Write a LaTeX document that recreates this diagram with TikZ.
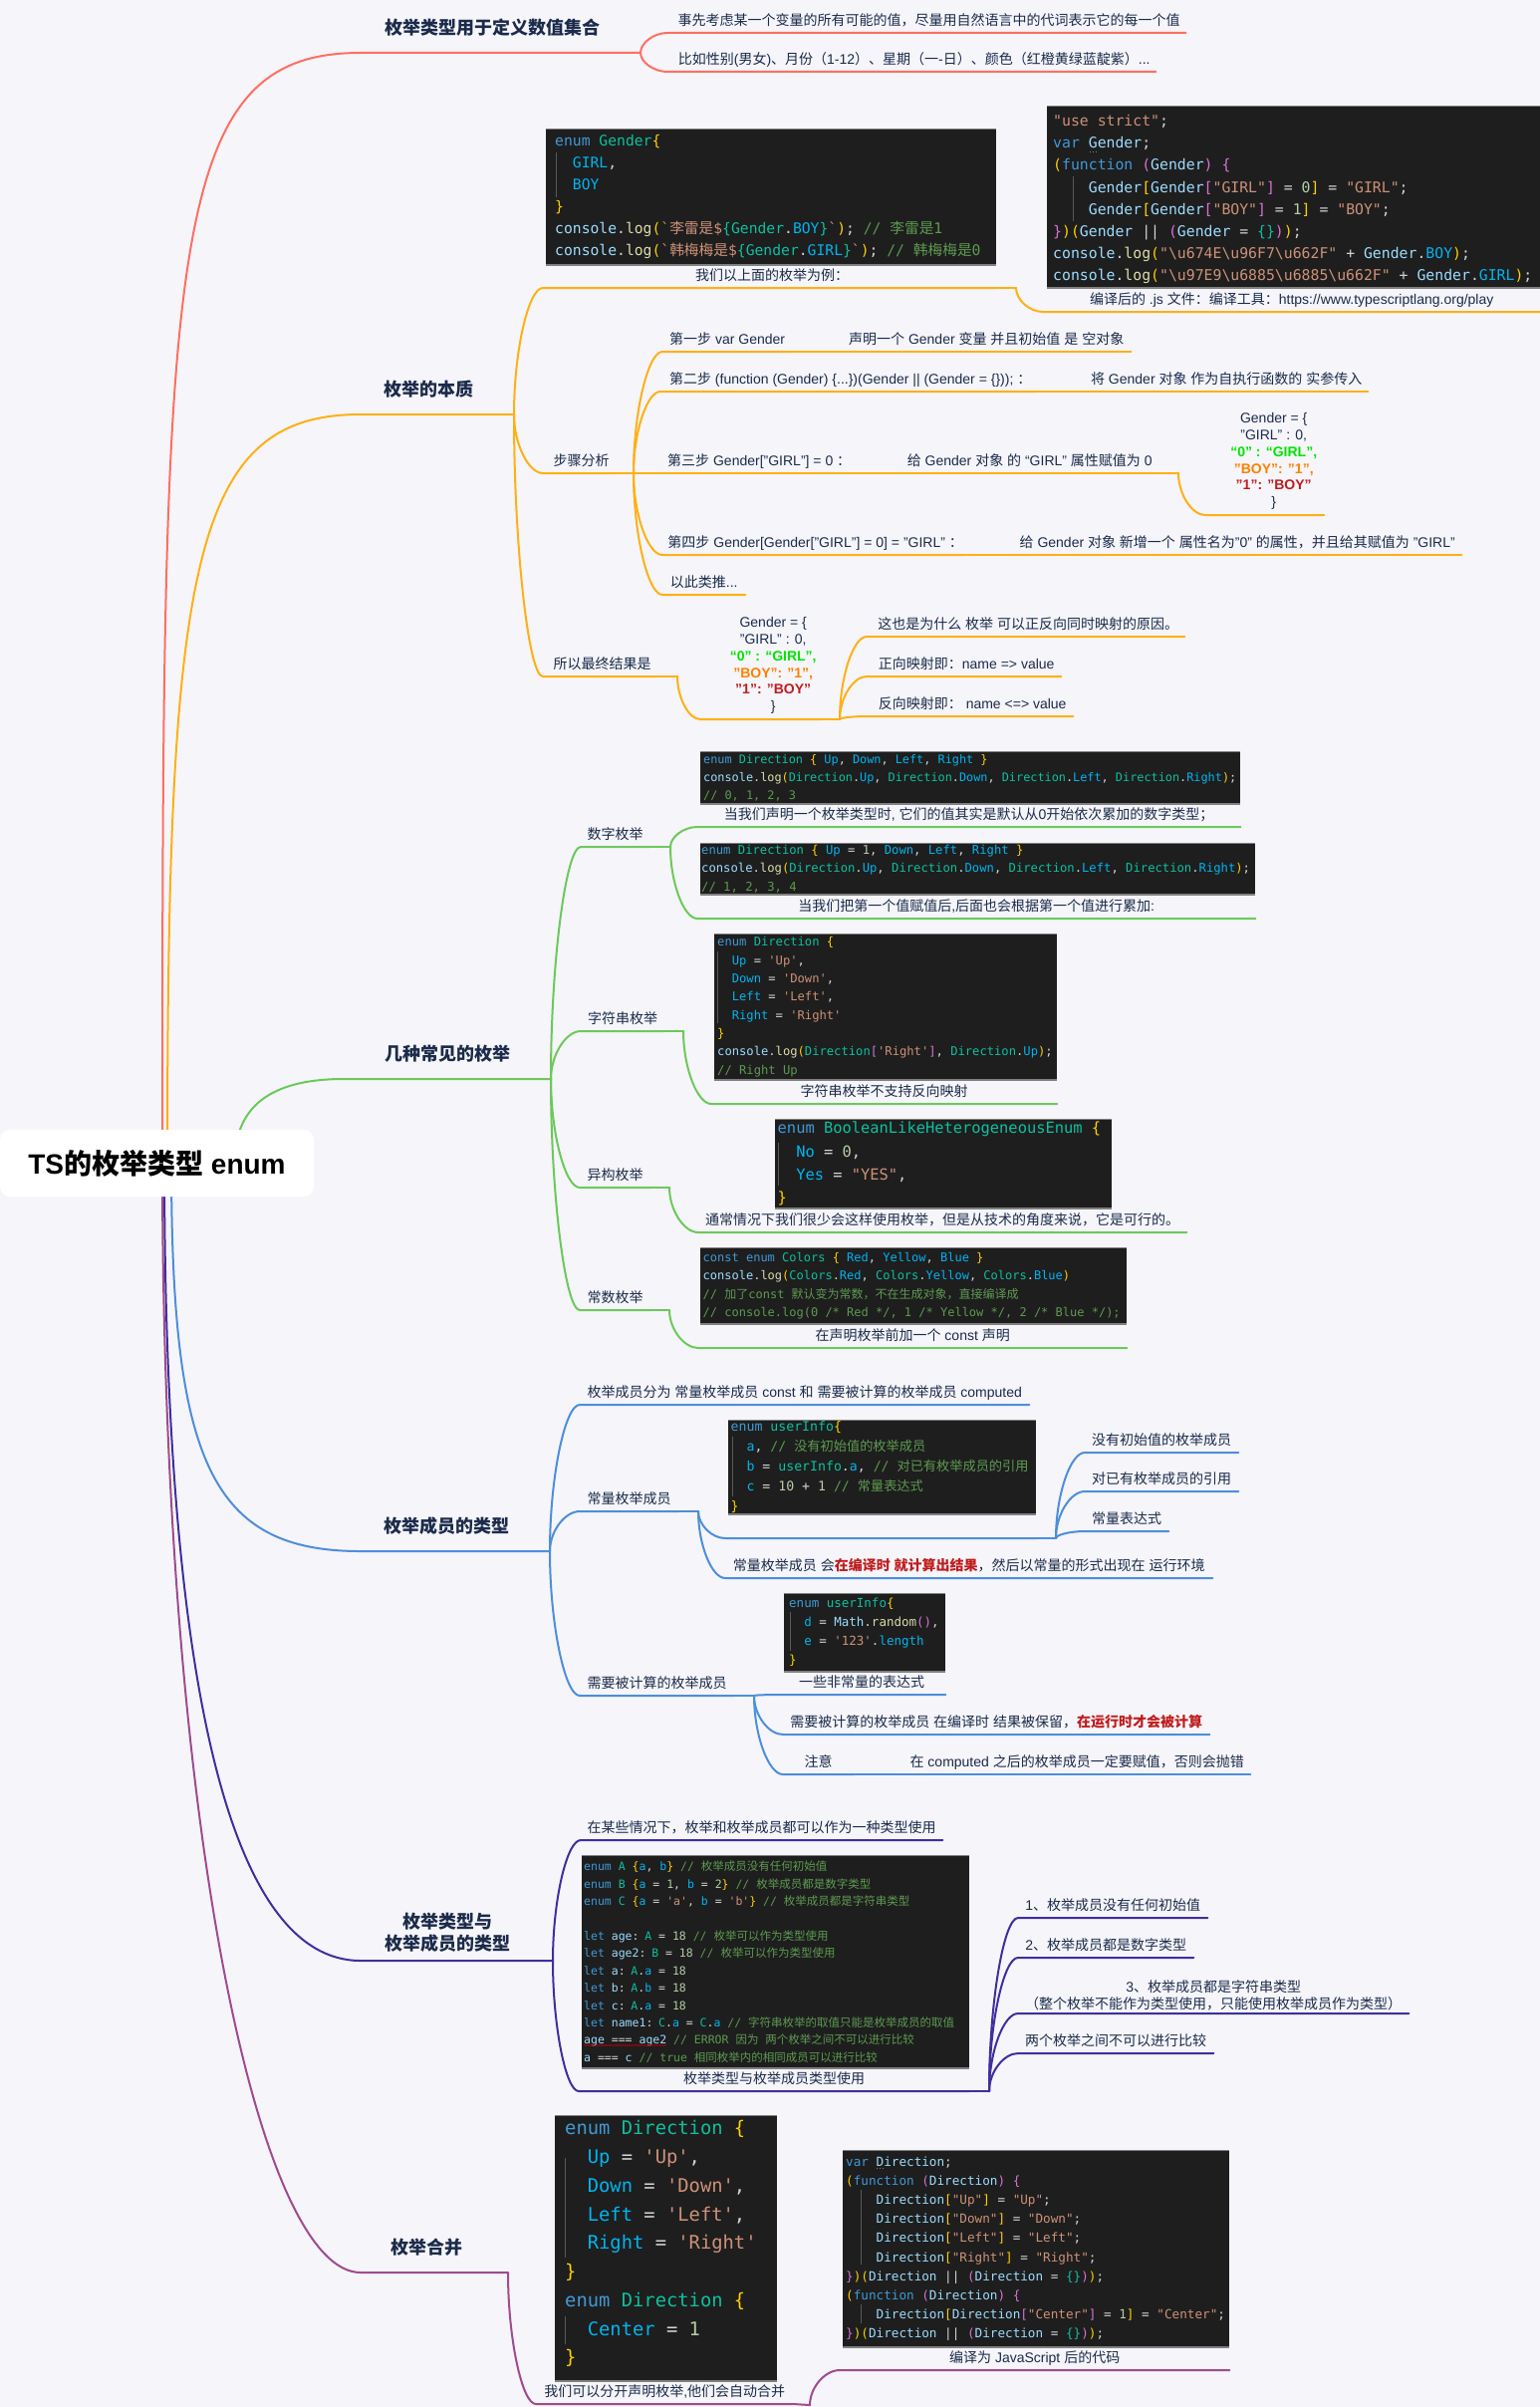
\documentclass[tikz,border=0pt]{standalone}
\usepackage{fontspec}
\setmainfont{Liberation Sans}
\setmonofont{DejaVu Sans Mono}
\newfontfamily\cjk{Noto Sans CJK SC}
\usetikzlibrary{calc}
\usetikzlibrary{decorations.pathmorphing}
% switch to the CJK font whenever a Han character shows up
\chardef\cjkclass=7
\newcount\cjkchar
\def\cjkrange#1#2{\cjkchar=#1 \loop\XeTeXcharclass\cjkchar=\cjkclass \advance\cjkchar by 1 \ifnum\cjkchar<#2 \repeat}
\cjkrange{"3000}{"3040}
\cjkrange{"4E00}{"A000}
\cjkrange{"FF00}{"FFF0}
\def\cjkpair#1{\XeTeXinterchartoks #1 \cjkclass={\begingroup\cjk}\XeTeXinterchartoks \cjkclass #1={\endgroup}}
\cjkpair{0}\cjkpair{1}\cjkpair{2}\cjkpair{3}\cjkpair{4095}
\XeTeXinterchartokenstate=1

\definecolor{pagebg}{HTML}{F5F5FA}
\definecolor{inkblue}{HTML}{1C2B4A}
\definecolor{mapred}{HTML}{FF6F61}
\definecolor{maporange}{HTML}{FFB014}
\definecolor{mapgreen}{HTML}{6CC95A}
\definecolor{mapblue}{HTML}{4E8EDB}
\definecolor{mapindigo}{HTML}{3F2F9E}
\definecolor{mappurple}{HTML}{A04B8E}
\definecolor{hotred}{HTML}{C01C1C}
\definecolor{codebg}{HTML}{1E1E1E}
\definecolor{codefg}{HTML}{D4D4D4}
\definecolor{codeK}{HTML}{3F9AD6}
\definecolor{codeT}{HTML}{0CC0A0}
\definecolor{codeV}{HTML}{00B4F0}
\definecolor{codeS}{HTML}{CE9178}
\definecolor{codeC}{HTML}{5D9A50}
\definecolor{codeN}{HTML}{B5CEA8}
\definecolor{codeB}{HTML}{FFD000}
\definecolor{codeP}{HTML}{DA70D6}
\definecolor{codeF}{HTML}{DCDCAA}
\definecolor{codeW}{HTML}{9CDCFE}
\newcommand{\cK}[1]{\textcolor{codeK}{#1}}
\newcommand{\cT}[1]{\textcolor{codeT}{#1}}
\newcommand{\cV}[1]{\textcolor{codeV}{#1}}
\newcommand{\cS}[1]{\textcolor{codeS}{#1}}
\newcommand{\cC}[1]{\textcolor{codeC}{#1}}
\newcommand{\cN}[1]{\textcolor{codeN}{#1}}
\newcommand{\cB}[1]{\textcolor{codeB}{#1}}
\newcommand{\cP}[1]{\textcolor{codeP}{#1}}
\newcommand{\cF}[1]{\textcolor{codeF}{#1}}
\newcommand{\cW}[1]{\textcolor{codeW}{#1}}
\newcommand{\clog}{\cW{console}.\cF{log}}
\newcommand{\ind}[1]{\hspace*{#1\dimexpr.602em\relax}}
\newcommand{\hl}[1]{\textcolor{hotred}{\bfseries #1}}
\newcommand{\pad}{\hspace*{32pt}}
\newcommand{\nudge}{\hspace*{5pt}}
\newcommand{\genderobj}{\begin{tabular}{@{}c@{}}
    Gender = \{\\
    "GIRL" : 0,\\
    \textcolor{green!90!black}{\bfseries “0” : “GIRL”,}\\
    \textcolor{orange}{\bfseries "BOY": "1",}\\
    \hl{"1": "BOY"}\\
    \}
\end{tabular}}
\newcommand{\branch}[3]{\draw[tone=#1] (#2) .. controls ($(#2)!0.5!(#3.south west-|#2)$) and ($(#3.south west)!0.5!(#3.south west-|#2)$) .. (#3.south west) -- (#3.south east);}
\pgfdeclarelayer{links}
\pgfsetlayers{links,main}

\begin{document}
\begin{tikzpicture}[
x=1pt, y=-1pt,
font=\fontsize{14}{16.8}\selectfont, text=inkblue,
rootbox/.style = {fill=white, rounded corners=10pt, minimum width=315pt, minimum height=67pt,
            inner sep=0pt, text=black, font=\fontsize{28}{34}\selectfont\bfseries},
topic/.style = {anchor=south west, inner sep=0pt, text depth=18.5pt,
            font=\fontsize{18}{22}\selectfont\bfseries},
topicm/.style = {anchor=south west, inner sep=0pt, inner ysep=8pt,
            font=\fontsize{18}{22}\selectfont\bfseries},
leaf/.style = {anchor=south west, inner sep=0pt, text depth=7.5pt, text height=12pt},
leafm/.style = {anchor=south west, inner sep=0pt, inner ysep=3pt},
tone/.style = {draw=#1, line width=2pt, line cap=round, line join=round},
codebox/.style n args = {5}{anchor=north west, fill=codebg, text=codefg, align=left,
            text width=#1pt, minimum height=#2pt, inner xsep=#5pt, inner ysep=0pt,
            font=\ttfamily\fontsize{#3}{#4}\selectfont,
            execute at begin node={\spaceskip=.602em\relax},
            path picture={\draw[gray,line width=2pt] (path picture bounding box.north west) -- (path picture bounding box.north east)
            (path picture bounding box.south west) -- (path picture bounding box.south east);}},
guide/.style = {draw=gray!70!black, line width=0.6pt}
                ]
    \useasboundingbox (0,0) rectangle (1546,2416);

    % root and topics
    \node[rootbox] (root) at (157.5,1167.5) {TS的枚举类型 enum};
    \node[topic,minimum width=264pt] (tred) at (362,53) {枚举类型用于定义数值集合};
    \node[topic,minimum width=136pt] (torange) at (362,416) {枚举的本质};
    \node[topic,minimum width=208pt] (tgreen) at (345,1083) {几种常见的枚举};
    \node[topic,minimum width=172pt] (tblue) at (362,1557) {枚举成员的类型};
    \node[topicm,minimum width=174pt,align=center] (tindigo) at (362,1968) {枚举类型与\\枚举成员的类型};
    \node[topic,minimum width=132pt] (tpurple) at (362,2281) {枚举合并};

    % red branch
    \node[leaf,minimum width=520pt] (r1) at (670,33) {\nudge 事先考虑某一个变量的所有可能的值，尽量用自然语言中的代词表示它的每一个值};
    \node[leaf,minimum width=490pt] (r2) at (670,72) {\nudge 比如性别(男女)、月份（1-12）、星期（一-日）、颜色（红橙黄绿蓝靛紫）...};

    % orange branch
    \node[leaf,minimum width=455pt] (o1) at (545,289) {\nudge 我们以上面的枚举为例：};
    \node[leaf,minimum width=499pt] (o1b) at (1047,313) {编译后的 .js 文件：编译工具：https://www.typescriptlang.org/play};
    \node[leaf,minimum width=72pt] (o2) at (545,475) {\nudge 步骤分析};
    \node[leaf,minimum width=130pt] (s1) at (665,353) {第一步 var Gender};
    \node[leaf,minimum width=322pt] (s1b) at (813,353) {\pad 声明一个 Gender 变量 并且初始值 是 空对象};
    \node[leaf,minimum width=376pt] (s2) at (663,393) {\nudge 第二步 (function (Gender) \{...\})(Gender || (Gender = \{\})); ：};
    \node[leaf,minimum width=316pt] (s2b) at (1057,393) {\pad 将 Gender 对象 作为自执行函数的 实参传入};
    \node[leaf,minimum width=188pt] (s3) at (665,475) {\nudge 第三步 Gender["GIRL"] = 0 ：};
    \node[leaf,minimum width=291pt] (s3b) at (872,475) {\pad 给 Gender 对象 的 “GIRL” 属性赋值为 0};
    \node[leafm,minimum width=119pt] (s3c) at (1210,517) {\hspace*{18pt}\genderobj};
    \node[leaf,minimum width=302pt] (s4) at (665,557) {\nudge 第四步 Gender[Gender["GIRL"] = 0] = "GIRL" ：};
    \node[leaf,minimum width=482pt] (s4b) at (985,557) {\pad 给 Gender 对象 新增一个 属性名为"0" 的属性，并且给其赋值为 "GIRL"};
    \node[leaf,minimum width=83pt] (s5) at (665,597) {以此类推...};
    \node[leaf,minimum width=114pt] (o3) at (545,679) {\nudge 所以最终结果是};
    \node[leafm,minimum width=122pt] (o3b) at (703,722) {\hspace*{24pt}\genderobj};
    \node[leaf,minimum width=319pt] (c1) at (870,639) {\nudge 这也是为什么 枚举 可以正反向同时映射的原因。};
    \node[leaf,minimum width=195pt] (c2) at (870,679) {\nudge 正向映射即：name => value};
    \node[leaf,minimum width=207pt] (c3) at (870,719) {\nudge 反向映射即： name <=> value};

    % green branch
    \node[leaf,minimum width=69pt] (g1) at (583,850) {数字枚举};
    \node[leaf,minimum width=545pt] (g1a) at (700,830) {当我们声明一个枚举类型时, 它们的值其实是默认从0开始依次累加的数字类型；};
    \node[leaf,minimum width=560pt] (g1b) at (700,922) {当我们把第一个值赋值后,后面也会根据第一个值进行累加:};
    \node[leaf,minimum width=84pt] (g2) at (583,1035) {字符串枚举};
    \node[leaf,minimum width=347pt] (g2a) at (714,1108) {字符串枚举不支持反向映射};
    \node[leaf,minimum width=71pt] (g3) at (582,1192) {异构枚举};
    \node[leaf,minimum width=490pt] (g3a) at (701,1237) {通常情况下我们很少会这样使用枚举，但是从技术的角度来说，它是可行的。};
    \node[leaf,minimum width=71pt] (g4) at (582,1315) {常数枚举};
    \node[leaf,minimum width=430pt] (g4a) at (701,1353) {在声明枚举前加一个 const 声明};

    % blue branch
    \node[leaf,minimum width=451pt] (b1) at (582,1410) {枚举成员分为 常量枚举成员 const 和 需要被计算的枚举成员 computed};
    \node[leaf,minimum width=99pt] (b2) at (582,1517) {常量枚举成员};
    \node[leaf,minimum width=312pt] (b2a) at (728,1544) {};
    \node[leaf,minimum width=154pt] (x1) at (1089,1458) {没有初始值的枚举成员};
    \node[leaf,minimum width=154pt] (x2) at (1089,1497) {对已有枚举成员的引用};
    \node[leaf,minimum width=84pt] (x3) at (1089,1537) {常量表达式};
    \node[leaf,minimum width=489pt] (b2b) at (728,1584) {常量枚举成员 会\hl{在编译时 就计算出结果}，然后以常量的形式出现在 运行环境};
    \node[leaf,minimum width=155pt] (b3) at (582,1702) {需要被计算的枚举成员};
    \node[leaf,minimum width=168pt] (b3a) at (781,1701) {一些非常量的表达式};
    \node[leaf,minimum width=428pt] (b3b) at (786,1741) {需要被计算的枚举成员 在编译时 结果被保留，\hl{在运行时才会被计算}};
    \node[leaf,minimum width=71pt] (b3c) at (786,1781) {注意};
    \node[leaf,minimum width=380pt] (b3d) at (875,1781) {\pad 在 computed 之后的枚举成员一定要赋值，否则会抛错};

    % indigo branch
    \node[leaf,minimum width=363pt] (d1) at (583,1847) {在某些情况下，枚举和枚举成员都可以作为一种类型使用};
    \node[leaf,minimum width=392pt] (d2) at (581,2099) {枚举类型与枚举成员类型使用};
    \node[leaf,minimum width=190pt] (e1) at (1022,1925) {1、枚举成员没有任何初始值};
    \node[leaf,minimum width=176pt] (e2) at (1022,1965) {2、枚举成员都是数字类型};
    \node[leafm,minimum width=392pt,align=center] (e3) at (1022,2021) {3、枚举成员都是字符串类型\\（整个枚举不能作为类型使用，只能使用枚举成员作为类型）};
    \node[leaf,minimum width=196pt] (e4) at (1022,2061) {两个枚举之间不可以进行比较};

    % purple branch
    \node[leaf,minimum width=258pt] (p1) at (538,2413) {我们可以分开声明枚举,他们会自动合并};
    \node[leaf,minimum width=391pt] (p2) at (843,2379) {编译为 JavaScript 后的代码};

    % code pictures
    \node[codebox={434}{137}{14.7}{22}{9}] (codeA) at (548,129) {\cK{enum} \cT{Gender}\cB{\{}\\
        \ind{2}\cV{GIRL},\\
        \ind{2}\cV{BOY}\\
        \cB{\}}\\
        \clog\cB{(}\cS{`李雷是\$}\cT{\{Gender}.\cV{BOY}\cT{\}}\cS{`}\cB{)}; \cC{// 李雷是1}\\
        \clog\cB{(}\cS{`韩梅梅是\$}\cT{\{Gender}.\cV{GIRL}\cT{\}}\cS{`}\cB{)}; \cC{// 韩梅梅是0}};
    \node[codebox={483}{183}{14.8}{22.2}{6}] (codeB) at (1051,106) {\cS{"use strict"};\\
        \cK{var} \cW{Gender};\\
        \cB{(}\cK{function} \cP{(}\cW{Gender}\cP{)} \cP{\{}\\
        \ind{4}\cW{Gender}\cB{[}\cW{Gender}\cP{[}\cS{"GIRL"}\cP{]} = \cN{0}\cB{]} = \cS{"GIRL"};\\
        \ind{4}\cW{Gender}\cB{[}\cW{Gender}\cP{[}\cS{"BOY"}\cP{]} = \cN{1}\cB{]} = \cS{"BOY"};\\
        \cP{\}}\cB{)(}\cW{Gender} || \cP{(}\cW{Gender} = \cT{\{\}}\cP{)}\cB{)};\\
        \clog\cB{(}\cS{"\textbackslash u674E\textbackslash u96F7\textbackslash u662F"} + \cW{Gender}.\cV{BOY}\cB{)};\\
        \clog\cB{(}\cS{"\textbackslash u97E9\textbackslash u6885\textbackslash u6885\textbackslash u662F"} + \cW{Gender}.\cV{GIRL}\cB{)};\par\vspace*{-5pt}};
    \node[codebox={536}{53}{11.85}{17.7}{3}] (codeC) at (703,754) {\cK{enum} \cT{Direction} \cB{\{} \cV{Up}, \cV{Down}, \cV{Left}, \cV{Right} \cB{\}}\\
        \clog\cB{(}\cT{Direction}.\cV{Up}, \cT{Direction}.\cV{Down}, \cT{Direction}.\cV{Left}, \cT{Direction}.\cV{Right}\cB{)};\\
        \cC{// 0, 1, 2, 3}};
    \node[codebox={555}{52}{12.2}{18.7}{1}] (codeD) at (703,846) {\cK{enum} \cT{Direction} \cB{\{} \cV{Up} = \cN{1}, \cV{Down}, \cV{Left}, \cV{Right} \cB{\}}\\
        \clog\cB{(}\cT{Direction}.\cV{Up}, \cT{Direction}.\cV{Down}, \cT{Direction}.\cV{Left}, \cT{Direction}.\cV{Right}\cB{)};\\
        \cC{// 1, 2, 3, 4}};
    \node[codebox={338}{147}{12.15}{18.3}{3}] (codeE) at (717,937) {\cK{enum} \cT{Direction} \cB{\{}\\
        \ind{2}\cV{Up} = \cS{'Up'},\\
        \ind{2}\cV{Down} = \cS{'Down'},\\
        \ind{2}\cV{Left} = \cS{'Left'},\\
        \ind{2}\cV{Right} = \cS{'Right'}\\
        \cB{\}}\\
        \clog\cB{(}\cT{Direction}\cP{[}\cS{'Right'}\cP{]}, \cT{Direction}.\cV{Up}\cB{)};\\
        \cC{// Right Up}};
    \node[codebox={333}{90}{15.4}{23.3}{2.5}] (codeF) at (778,1123) {\cK{enum} \cT{BooleanLikeHeterogeneousEnum} \cB{\{}\\
        \ind{2}\cV{No} = \cN{0},\\
        \ind{2}\cV{Yes} = \cS{"YES"},\\
        \cB{\}}};
    \node[codebox={423}{77}{12}{18.2}{2.5}] (codeG) at (703,1252) {\cK{const} \cK{enum} \cT{Colors} \cB{\{} \cV{Red}, \cV{Yellow}, \cV{Blue} \cB{\}}\\
        \clog\cB{(}\cT{Colors}.\cV{Red}, \cT{Colors}.\cV{Yellow}, \cT{Colors}.\cV{Blue}\cB{)}\\
        \cC{// 加了const 默认变为常数，不在生成对象，直接编译成}\\
        \cC{// console.log(0 /* Red */, 1 /* Yellow */, 2 /* Blue */);}};
    \node[codebox={304}{95}{13.2}{20}{2.5}] (codeH) at (731,1425) {\cK{enum} \cT{userInfo}\cB{\{}\\
        \ind{2}\cV{a}, \cC{// 没有初始值的枚举成员}\\
        \ind{2}\cV{b} = \cT{userInfo}.\cV{a}, \cC{// 对已有枚举成员的引用}\\
        \ind{2}\cV{c} = \cN{10} + \cN{1} \cC{// 常量表达式}\\
        \cB{\}}};
    \node[codebox={152}{79}{12.5}{19}{5}] (codeI) at (787,1599) {\cK{enum} \cT{userInfo}\cB{\{}\\
        \ind{2}\cV{d} = \cW{Math}.\cF{random}\cP{()},\\
        \ind{2}\cV{e} = \cS{'123'}.\cV{length}\\
        \cB{\}}};
    \node[codebox={385}{214}{11.5}{17.4}{2}] (codeJ) at (584,1862) {\cK{enum} \cT{A} \cB{\{}\cV{a}, \cV{b}\cB{\}} \cC{// 枚举成员没有任何初始值}\\
        \cK{enum} \cT{B} \cB{\{}\cV{a} = \cN{1}, \cV{b} = \cN{2}\cB{\}} \cC{// 枚举成员都是数字类型}\\
        \cK{enum} \cT{C} \cB{\{}\cV{a} = \cS{'a'}, \cV{b} = \cS{'b'}\cB{\}} \cC{// 枚举成员都是字符串类型}\\
        \mbox{}\\
        \cK{let} \cW{age}: \cT{A} = \cN{18} \cC{// 枚举可以作为类型使用}\\
        \cK{let} \cW{age2}: \cT{B} = \cN{18} \cC{// 枚举可以作为类型使用}\\
        \cK{let} \cW{a}: \cT{A}.\cV{a} = \cN{18}\\
        \cK{let} \cW{b}: \cT{A}.\cV{b} = \cN{18}\\
        \cK{let} \cW{c}: \cT{A}.\cV{a} = \cN{18}\\
        \cK{let} \cW{name1}: \cT{C}.\cV{a} = \cT{C}.\cV{a} \cC{// 字符串枚举的取值只能是枚举成员的取值}\\
        \cW{age} === \cW{age2} \cC{// ERROR 因为 两个枚举之间不可以进行比较}\\
        \cW{a} === \cW{c} \cC{// true 相同枚举内的相同成员可以进行比较}};
    \node[codebox={203}{267}{18.8}{28.75}{10}] (codeK) at (557,2123) {\cK{enum} \cT{Direction} \cB{\{}\\
        \ind{2}\cV{Up} = \cS{'Up'},\\
        \ind{2}\cV{Down} = \cS{'Down'},\\
        \ind{2}\cV{Left} = \cS{'Left'},\\
        \ind{2}\cV{Right} = \cS{'Right'}\\
        \cB{\}}\\
        \cK{enum} \cT{Direction} \cB{\{}\\
        \ind{2}\cV{Center} = \cN{1}\\
        \cB{\}}\par\vspace*{9pt}};
    \node[codebox={382}{198}{12.65}{19.2}{3}] (codeL) at (846,2158) {\cK{var} \cW{Direction};\\
        \cB{(}\cK{function} \cP{(}\cW{Direction}\cP{)} \cP{\{}\\
        \ind{4}\cW{Direction}\cB{[}\cS{"Up"}\cB{]} = \cS{"Up"};\\
        \ind{4}\cW{Direction}\cB{[}\cS{"Down"}\cB{]} = \cS{"Down"};\\
        \ind{4}\cW{Direction}\cB{[}\cS{"Left"}\cB{]} = \cS{"Left"};\\
        \ind{4}\cW{Direction}\cB{[}\cS{"Right"}\cB{]} = \cS{"Right"};\\
        \cP{\}}\cB{)(}\cW{Direction} || \cP{(}\cW{Direction} = \cT{\{\}}\cP{)}\cB{)};\\
        \cB{(}\cK{function} \cP{(}\cW{Direction}\cP{)} \cP{\{}\\
        \ind{4}\cW{Direction}\cB{[}\cW{Direction}\cP{[}\cS{"Center"}\cP{]} = \cN{1}\cB{]} = \cS{"Center"};\\
        \cP{\}}\cB{)(}\cW{Direction} || \cP{(}\cW{Direction} = \cT{\{\}}\cP{)}\cB{)};};

    % indent guides and editor marks on the code pictures
    \foreach \x/\ya/\yb in {558/153/198, 1077/177/222, 720/955/1027, 781/1147/1190, 735/1442/1502, 793/1618/1657, 567/2166/2266, 567/2325/2353, 864/2198/2273, 864/2313/2332}
        \draw[guide] (\x,\ya) -- (\x,\yb);
    \draw[gray,dotted,line width=0.8pt] (1094,152) -- (1101,152);
    \draw[gray,dotted,line width=0.8pt] (880,2176) -- (887,2176);
    \draw[red!75!black,line width=0.6pt,decorate,decoration={snake,amplitude=0.7pt,segment length=3pt}] (586,2053) -- (669,2053);

    % junctions
    \coordinate (ar) at (163,1167);
    \coordinate (ao) at (168,1167);
    \coordinate (ag) at (236,1165);
    \coordinate (ab) at (172,1167);
    \coordinate (ad) at (165,1167);
    \coordinate (ap) at (163,1167);
    \coordinate (jr) at (643,53);
    \coordinate (jo) at (516,416);
    \coordinate (jg) at (553,1083);
    \coordinate (jb) at (552,1557);
    \coordinate (jd) at (555,1968);
    \coordinate (jp) at (510,2281);
    \coordinate (o1j) at (1020,289);
    \coordinate (o2j) at (636,475);
    \coordinate (s3j) at (1183,475);
    \coordinate (o3j) at (680,679);
    \coordinate (o3bj) at (843,722);
    \coordinate (g1j) at (673,850);
    \coordinate (g2j) at (686,1035);
    \coordinate (g3j) at (672,1192);
    \coordinate (g4j) at (672,1315);
    \coordinate (b2j) at (701,1517);
    \coordinate (b2aj) at (1060,1544);
    \coordinate (b3j) at (757,1702);
    \coordinate (d2j) at (993,2099);
    \coordinate (p1j) at (813,2414);

    \begin{pgfonlayer}{links}
    \fill[pagebg] (0,0) rectangle (1546,2416);
    % from the root to the topics
    \foreach \c/\s/\t/\ya/\xb/\j in {mapred/ar/tred/-917/-197/jr, maporange/ao/torange/-600/-170/jo, mapgreen/ag/tgreen/-60/-65/jg, mapblue/ab/tblue/300/-150/jb, mapindigo/ad/tindigo/530/-130/jd, mappurple/ap/tpurple/680/-100/jp}
        \draw[tone=\c] (\s) .. controls ($(\s)+(0,\ya)$) and ($(\t.south west)+(\xb,0)$) .. (\t.south west) -- (\t.south east) -- (\j);
    \foreach \p/\q in {jr/r1, jr/r2}
        {\branch{mapred}{\p}{\q}}
    \foreach \p/\q in {jo/o1, jo/o2, jo/o3, o1j/o1b, o2j/s1, o2j/s2, o2j/s3, o2j/s4, o2j/s5, s3j/s3c, o3j/o3b, o3bj/c1, o3bj/c2, o3bj/c3}
        {\branch{maporange}{\p}{\q}}
    \foreach \p/\q in {jg/g1, jg/g2, jg/g3, jg/g4, g1j/g1a, g1j/g1b, g2j/g2a, g3j/g3a, g4j/g4a}
        {\branch{mapgreen}{\p}{\q}}
    \foreach \p/\q in {jb/b1, jb/b2, jb/b3, b2j/b2a, b2j/b2b, b2aj/x1, b2aj/x2, b2aj/x3, b3j/b3a, b3j/b3b, b3j/b3c}
        {\branch{mapblue}{\p}{\q}}
    \foreach \p/\q in {jd/d1, jd/d2, d2j/e1, d2j/e2, d2j/e3, d2j/e4}
        {\branch{mapindigo}{\p}{\q}}
    \branch{mappurple}{jp}{p1}
    \branch{mappurple}{p1j}{p2}
    % short pieces between a label and the next one
    \foreach \p/\q in {o1/o1j, o2/o2j, o3/o3j, o3b/o3bj, s3b/s3j, s1/s1b.south west, s2/s2b.south west, s3/s3b.south west, s4/s4b.south west, s1b/s1b.south west, s2b/s2b.south west, s3b/s3b.south west, s4b/s4b.south west}
        \draw[tone=maporange] (\p.south east) -- (\q);
    \foreach \p/\q in {g1/g1j, g2/g2j, g3/g3j, g4/g4j}
        \draw[tone=mapgreen] (\p.south east) -- (\q);
    \foreach \p/\q in {b2/b2j, b2a/b2aj, b3/b3j, b3c/b3d.south west, b3d/b3d.south west}
        \draw[tone=mapblue] (\p.south east) -- (\q);
    \draw[tone=mapindigo] (d2.south east) -- (d2j);
    \draw[tone=mappurple] (p1.south east) -- (p1j);
    \end{pgfonlayer}
\end{tikzpicture}
\end{document}
